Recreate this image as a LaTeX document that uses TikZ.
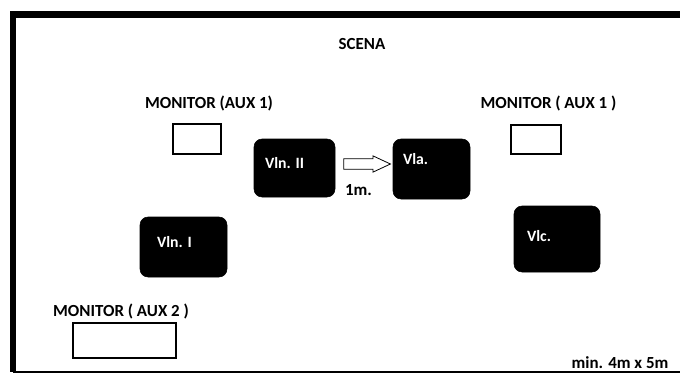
\documentclass[tikz,border=0pt]{standalone}
\usepackage{fontspec}
\setmainfont{Carlito}
\usetikzlibrary{positioning}
\usetikzlibrary{shapes.arrows}

\begin{document}
\begin{tikzpicture}[x=0.75pt, y=-0.75pt, font=\bfseries\fontsize{12.7}{14}\selectfont]

        % Styles for the stage plan
        \tikzset{
            player/.style={fill=black, draw=black, rounded corners=6pt,
                inner sep=0pt},
            playertxt/.style={text=white, inner sep=0pt, anchor=west,
                font=\bfseries\fontsize{11.8}{13}\selectfont},
            monitor/.style={draw=black, fill=white, line width=0.9pt,
                inner sep=0pt},
            caption/.style={inner sep=0pt}
        }

        \useasboundingbox (0, 0) rectangle (680, 374);

        % Frame of the stage, open on the right
        \draw[line width=5pt] (690, 14.5) -- (13, 14.5) -- (13, 372);
        \draw[line width=1.4pt] (13, 372.3) -- (690, 372.3);

        \node[caption] (scena) at (362, 44) {SCENA};

        % Monitors
        \node[monitor, minimum width=36pt, minimum height=22.5pt]
            (mon1) at (197, 139) {};
        \node[monitor, minimum width=37.5pt, minimum height=21.75pt]
            (mon2) at (536, 139.5) {};
        \node[monitor, minimum width=77.25pt, minimum height=26.25pt]
            (mon3) at (124.5, 340.5) {};
        \node[caption] (mon1lab) at (209, 103) {MONITOR (AUX 1)};
        \node[caption] (mon2lab) at (548.5, 103) {MONITOR ( AUX 1 )};
        \node[caption] (mon3lab) at (121, 311) {MONITOR ( AUX 2 )};

        % Players
        \node[player, minimum width=60.75pt, minimum height=43.5pt]
            (vln2) at (294.5, 168) {};
        \node[player, minimum width=57.75pt, minimum height=45pt]
            (vla) at (431.5, 169) {};
        \node[player, minimum width=65.25pt, minimum height=45pt]
            (vln1) at (183.5, 247) {};
        \node[player, minimum width=64.5pt, minimum height=49.5pt]
            (vlc) at (557, 239) {};

        \node[playertxt, right=8.25pt of vln2.west, yshift=3.75pt]
            (vln2txt) {Vln. II};
        \node[playertxt, right=7.5pt of vla.west, yshift=7.5pt]
            (vlatxt) {Vla.};
        \node[playertxt, right=12.75pt of vln1.west, yshift=3.75pt]
            (vln1txt) {Vln. I};
        \node[playertxt, right=9.75pt of vlc.west, yshift=2.25pt]
            (vlctxt) {Vlc.};

        % Distance between the violins and the viola
        \node[single arrow, draw=black, fill=white, line width=0.6pt,
            inner sep=3.6pt, minimum height=35pt, minimum width=12pt,
            single arrow head extend=2.2pt, single arrow tip angle=50]
            (gap) at (361.5, 164) {};
        \node[caption] (gaplab) at (358.5, 190) {1m.};

        \node[caption] (size) at (620, 363) {min. 4m x 5m};

\end{tikzpicture}
\end{document}
